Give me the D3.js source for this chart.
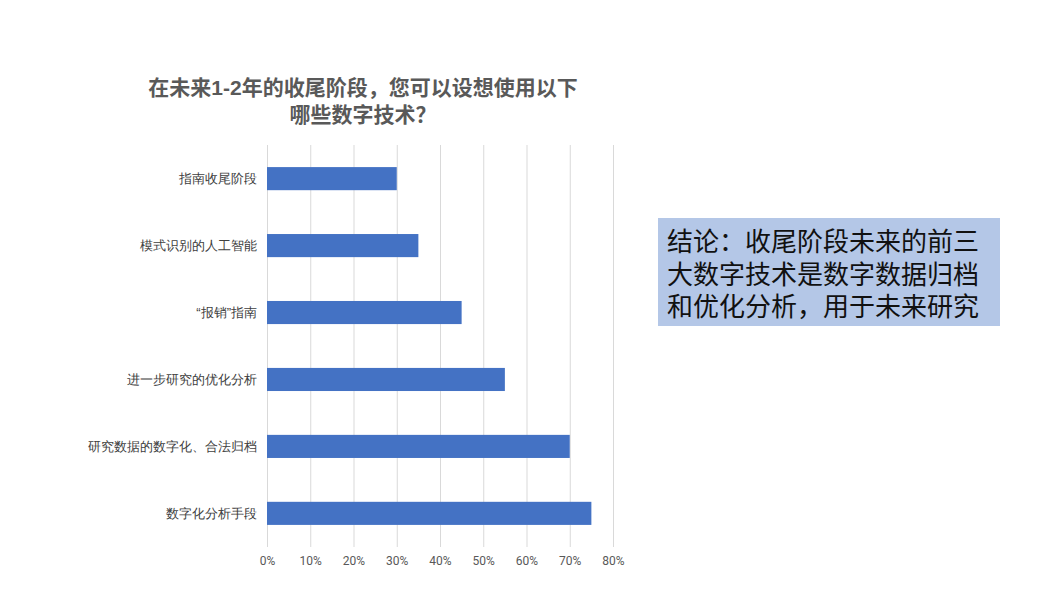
<!DOCTYPE html>
<html>
<head>
<meta charset="utf-8">
<script src="https://cdn.jsdelivr.net/npm/d3@7.9.0/dist/d3.min.js"></script>
<style>
  body { margin: 0; background: #fff; }
  svg { display: block; font-family: "Noto Sans CJK SC", "Noto Sans", sans-serif; }
</style>
</head>
<body>
<div id="chart"></div>
<script>
const categories = ['指南收尾阶段', '模式识别的人工智能', '“报销”指南', '进一步研究的优化分析', '研究数据的数字化、合法归档', '数字化分析手段'];
const values = [0.30, 0.35, 0.45, 0.55, 0.70, 0.75];
const xTicks = [0, 0.1, 0.2, 0.3, 0.4, 0.5, 0.6, 0.7, 0.8];
const titleLines = ['在未来1-2年的收尾阶段，您可以设想使用以下', '哪些数字技术？'];
const noteLines = ['结论：收尾阶段未来的前三', '大数字技术是数字数据归档', '和优化分析，用于未来研究'];

const width = 1047, height = 614;
const area = { left: 267, right: 613, top: 145, bottom: 547 };
// Latin font first keeps the line boxes tight, CJK glyphs fall back to Noto
const tightFont = '"Liberation Sans", "Noto Sans CJK SC", sans-serif';

const svg = d3.select('#chart').append('svg')
  .attr('width', width).attr('height', height);

const x = d3.scaleLinear().domain([0, 0.8]).range([area.left, area.right]);
const y = d3.scaleBand().domain(categories).range([area.top, area.bottom]).paddingInner(0.655).paddingOuter(0.33);

// gridlines
svg.append('g')
  .attr('transform', `translate(0, ${area.bottom})`)
  .call(d3.axisBottom(x).tickValues(xTicks).tickSize(-(area.bottom - area.top)).tickFormat(''))
  .call(g => g.select('.domain').remove())
  .call(g => g.selectAll('line').attr('stroke', '#d9d9d9').attr('stroke-width', 1));

// x tick labels
svg.append('g')
  .attr('transform', `translate(0, ${area.bottom})`)
  .call(d3.axisBottom(x).tickValues(xTicks).tickSize(0).tickPadding(9).tickFormat(d3.format('.0%')))
  .call(g => g.select('.domain').remove())
  .call(g => g.selectAll('text').attr('fill', '#595959').style('font-size', '12px').style('font-family', 'Roboto, "Noto Sans", sans-serif'));

// bars
svg.append('g').selectAll('rect')
  .data(categories)
  .join('rect')
  .attr('x', x(0))
  .attr('y', (d) => y(d))
  .attr('width', (d, i) => x(values[i]) - x(0))
  .attr('height', y.bandwidth())
  .attr('fill', '#4472c4');

// category labels
svg.append('g')
  .attr('transform', `translate(${area.left}, 0)`)
  .call(d3.axisLeft(y).tickSize(0).tickPadding(10))
  .call(g => g.select('.domain').remove())
  .call(g => g.selectAll('text').attr('fill', '#404040').style('font-size', '13px'));

// title
svg.append('g').selectAll('text')
  .data(titleLines)
  .join('text')
  .attr('x', 363)
  .attr('y', (d, i) => 95 + i * 27)
  .attr('text-anchor', 'middle')
  .attr('fill', '#595959')
  .style('font-family', tightFont)
  .style('font-size', '21px')
  .style('font-weight', 'bold')
  .text((d) => d);

// note box
svg.append('rect')
  .attr('x', 658).attr('y', 218).attr('width', 342).attr('height', 108)
  .attr('fill', '#b4c7e7');

svg.append('g').selectAll('text')
  .data(noteLines)
  .join('text')
  .attr('x', 667)
  .attr('y', (d, i) => 251 + i * 32.5)
  .attr('fill', '#111')
  .style('font-family', tightFont)
  .style('font-size', '26px')
  .text((d) => d);
</script>
</body>
</html>
